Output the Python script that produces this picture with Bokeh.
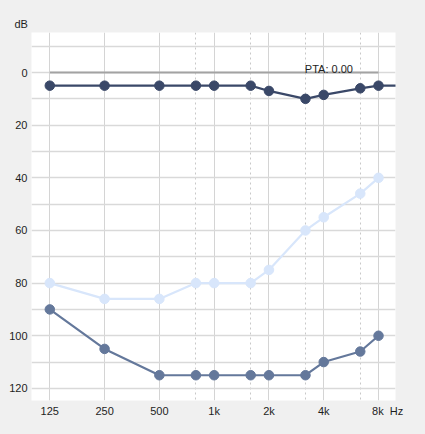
import math
from bokeh.plotting import figure
from bokeh.models import Range1d, FixedTicker, Label, Title
from bokeh.embed import file_html
from bokeh.resources import INLINE

# ---- data ----
freqs = [125, 250, 500, 750, 1000, 1500, 2000, 3000, 4000, 6000, 8000]
dark_freqs = freqs + [12000]
dark_db = [5, 5, 5, 5, 5, 5, 7, 10, 8.5, 6, 5, 5]
light_db = [80, 86, 86, 80, 80, 80, 75, 60, 55, 46, 40]
mid_db = [90, 105, 115, 115, 115, 115, 115, 115, 110, 106, 100]
octave_freqs = [125, 250, 500, 1000, 2000, 4000, 8000]
octave_labels = ["125", "250", "500", "1k", "2k", "4k", "8k"]
half_freqs = [750, 1500, 3000, 6000]
pta_freqs = [125, 8000]
pta_value = 0.0
pta_text = "PTA: 0.00"
y_major = [0, 20, 40, 60, 80, 100, 120]
y_minor = [-10, 10, 30, 50, 70, 90, 110]
y_unit = "dB"
x_unit = "Hz"

FONT = "Liberation Sans"
NB = "\u00a0"


def pos(f):
    # audiogram axis: octaves evenly spaced, half-octave lines at 2/3 of the octave
    k = math.log2(f / 125.0)
    base = math.floor(k + 1e-9)
    frac = k - base
    return base + (2.0 / 3.0 if frac > 1e-6 else 0.0)


p = figure(
    frame_width=364, frame_height=368,
    x_range=Range1d(-0.334, 6.31), y_range=Range1d(124.6, -15.2),
    output_backend="svg", toolbar_location=None,
    min_border_left=31, min_border_right=30, min_border_top=32, min_border_bottom=34,
)
p.background_fill_color = "white"
p.border_fill_color = "#f0f0f0"
p.outline_line_color = None

# axes
tick_text = list(octave_labels)
tick_text[-1] = NB * 6 + tick_text[-1] + NB * 2 + x_unit  # unit sits right of the last tick
p.xaxis.ticker = FixedTicker(ticks=[pos(f) for f in octave_freqs],
                             minor_ticks=[pos(f) for f in half_freqs])
p.xaxis.major_label_overrides = {pos(f): lab for f, lab in zip(octave_freqs, tick_text)}
p.yaxis.ticker = FixedTicker(ticks=y_major, minor_ticks=y_minor)
for ax in (p.xaxis[0], p.yaxis[0]):
    ax.axis_line_color = None
    ax.major_tick_line_color = None
    ax.minor_tick_line_color = None
    ax.major_tick_out = 0
    ax.major_tick_in = 0
    ax.minor_tick_out = 0
    ax.major_label_text_font = FONT
    ax.major_label_text_font_size = "11px"
    ax.major_label_text_color = "#1e1e1e"
p.xaxis.major_label_standoff = 4
p.yaxis.major_label_standoff = 4

# grids
p.xgrid.grid_line_color = "#d4d4d4"
p.xgrid.grid_line_width = 1
p.xgrid.minor_grid_line_color = "#c8c8c8"
p.xgrid.minor_grid_line_dash = "2 3"
p.ygrid.grid_line_color = "#d9d9d9"
p.ygrid.grid_line_width = 1.3
p.ygrid.minor_grid_line_color = "#d9d9d9"
p.ygrid.minor_grid_line_width = 1.3

# PTA line
p.line([pos(f) for f in pta_freqs], [pta_value] * len(pta_freqs),
       line_color="#a3a3a3", line_width=2)
p.add_layout(Label(x=4.655, y=-1.5, text=pta_text, text_font=FONT,
                   text_font_size="11px", text_color="#1e1e1e",
                   text_align="left", text_baseline="alphabetic"))

series = [
    (freqs, light_db, "#d8e6fb"),
    (freqs, mid_db, "#64789b"),
    (dark_freqs, dark_db, "#3a4868"),
]
for fs, ys, col in series:
    xs = [pos(f) for f in fs]
    p.line(xs, ys, line_color=col, line_width=2.2)
    p.scatter(xs, ys, size=9.5, fill_color=col, line_color=col)

# y unit above the axis
p.add_layout(Title(text=y_unit, align="left", offset=-17, standoff=6,
                   text_font=FONT, text_font_size="11px", text_font_style="normal",
                   text_color="#1e1e1e"), "above")

html = file_html(p, INLINE)
html = html.replace("<head>", "<head><style>html,body{background:#f0f0f0;}</style>", 1)
open("out.html", "w").write(html)
